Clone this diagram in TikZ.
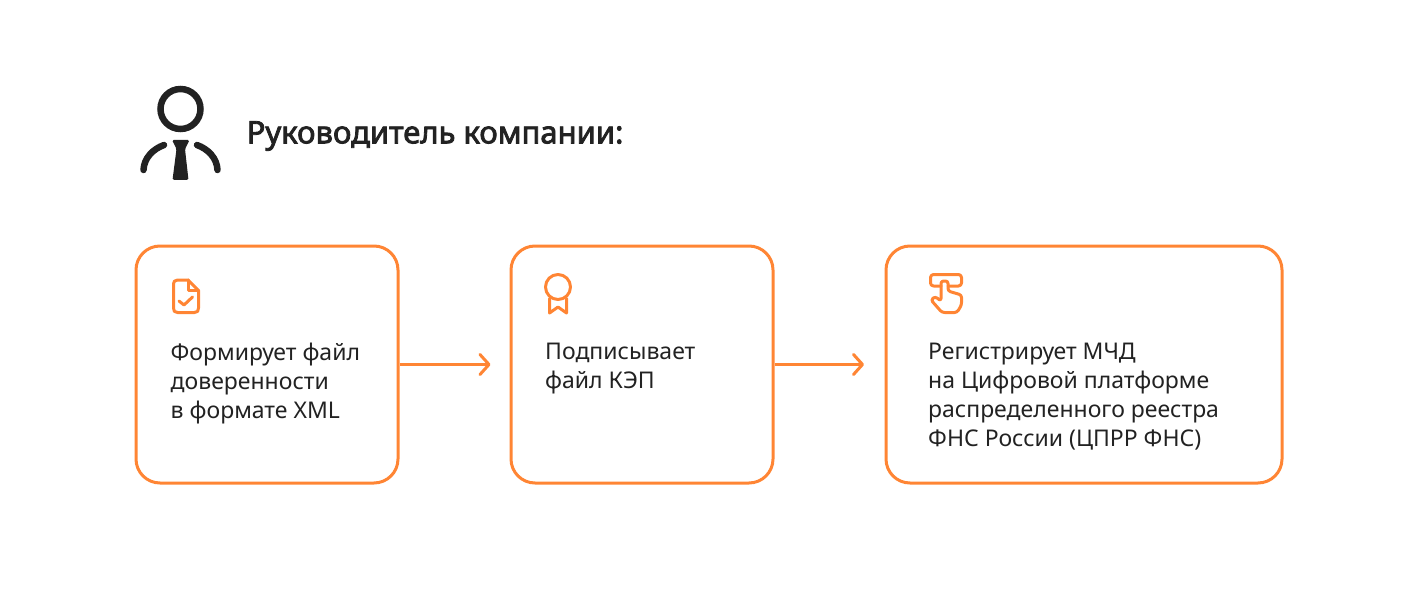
\documentclass[tikz,border=0pt]{standalone}
\usepackage{fontspec}
\setmainfont{Noto Sans}
\newfontfamily\headfont[FakeBold=2.6]{Noto Sans}
\usetikzlibrary{arrows.meta}
\definecolor{orng}{HTML}{FF8534}
\definecolor{ink}{HTML}{222222}

\begin{document}
\begin{tikzpicture}[x=1pt, y=-1pt,
    card/.style={rectangle, draw=orng, line width=3pt, rounded corners=24pt, minimum height=237pt, inner sep=0pt},
    cardtext/.style={anchor=north west, inner sep=0pt, align=left, text=ink, font=\fontsize{23}{29}\selectfont},
    icon/.style={draw=orng, line width=3pt, line cap=round, line join=round},
    man/.style={draw=ink, line width=6.5pt},
    >={Straight Barb[length=9pt,width=20pt,line cap=round,line join=round]}]

  \useasboundingbox (0,0) rectangle (1418,596);

  \node[anchor=west, inner sep=0pt, text=ink, font=\fontsize{31}{36}\selectfont\headfont] (T) at (246.5,136) {Руководитель компании:};

  \node[card, minimum width=262pt] (A) at (267,364.5) {};
  \node[card, minimum width=262pt] (B) at (642,364.5) {};
  \node[card, minimum width=396pt] (C) at (1084,364.5) {};

  \node[cardtext] (a) at (170.5,343) {Формирует файл\\доверенности\\в формате XML};
  \node[cardtext] (b) at (545,343) {Подписывает\\файл КЭП};
  \node[cardtext] (c) at (928,343) {Регистрирует МЧД\\на Цифровой платформе\\распределенного реестра\\ФНС России (ЦПРР ФНС)};

  \draw[->, orng, line width=3pt, shorten >=19pt] (A) -- (B);
  \draw[->, orng, line width=3pt, shorten >=20.5pt] (B) -- (C);

  % man
  \draw[man] (180.5,109) circle (20);
  \draw[man, line cap=round] (143.5,170) .. controls (144,158) and (153,149) .. (164,145);
  \draw[man, line cap=round] (217.5,170) .. controls (217,158) and (208,149) .. (197,145);
  \fill[ink, rounded corners=1.5pt] (172,140) -- (189.5,140) -- (185,149) -- (188.5,180) -- (172.5,180) -- (176.5,149) -- cycle;

  % document
  \draw[icon] (188,280) -- (177.5,280) .. controls (174.5,280) and (173.5,282) .. (173.5,284)
    -- (173.5,308) .. controls (173.5,311) and (174.5,312.5) .. (177.5,312.5)
    -- (194.5,312.5) .. controls (197.5,312.5) and (198.5,311) .. (198.5,308) -- (198.5,290.5) -- cycle;
  \draw[icon] (188,280) -- (188,290.5) -- (198.5,290.5);
  \draw[icon] (179,301) -- (184,305) -- (192.5,297);

  % ribbon
  \draw[icon] (558,287) circle (12.5);
  \draw[icon] (549.5,298.5) -- (549.5,313) -- (558,307) -- (566.5,313) -- (566.5,298.5);

  % hand
  \draw[icon, rounded corners=3pt] (941,286) -- (930.5,286) -- (930.5,274.5) -- (961.5,274.5) -- (961.5,286) -- (948,286);
  \draw[icon, rounded corners=2.5pt] (948,291) -- (948,281) -- (941,281) -- (941,301) -- (935,296.5) -- (931,300) -- (942,312.5) -- (957,312.5) -- (961.5,305) -- (961.5,295) -- cycle;
\end{tikzpicture}
\end{document}
